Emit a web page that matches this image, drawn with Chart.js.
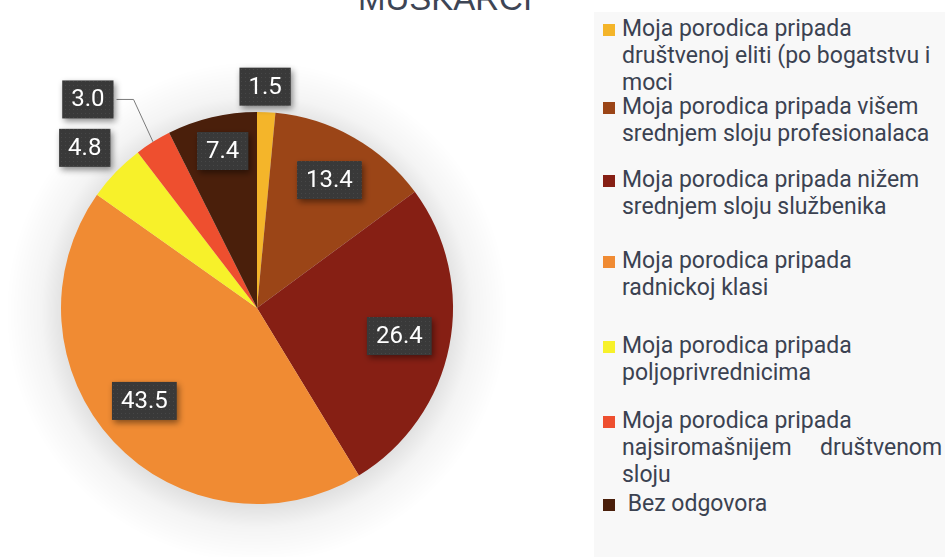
<!DOCTYPE html>
<html>
<head>
<meta charset="utf-8">
<script src="https://cdn.jsdelivr.net/npm/chart.js@4.4.0/dist/chart.umd.min.js"></script>
<style>
  body { margin: 0; width: 945px; height: 557px; background: #fff; overflow: hidden; position: relative; font-family: Roboto, "Noto Sans", sans-serif; }
  #title { position: absolute; left: 257px; width: 376px; top: -18px; text-align: center; font: 33px "Liberation Sans", Arial, sans-serif; color: #3d4555; line-height: 33px; }
  #chartBox { position: absolute; left: 0; top: 0; width: 597px; height: 557px; }
  #legend { position: absolute; left: 594px; top: 12px; width: 351px; height: 545px; background: #f8f8f8; }
  .item { position: absolute; left: 0; width: 351px; }
  .item .mk { position: absolute; left: 9px; width: 12px; height: 12px; top: 8px; }
  .item .tx { position: absolute; left: 28px; top: -1px; font-size: 23px; line-height: 27px; color: #3b4251; white-space: pre; }
</style>
</head>
<body>
<div id="title">MUŠKARCI</div>
<div id="chartBox"><canvas id="pieChart"></canvas></div>
<div id="legend"></div>
<script>
// Categories (legend text, wrapped as in the original)
const legendLines = [
    ['Moja porodica pripada', 'društvenoj eliti (po bogatstvu i', 'moci'],
    ['Moja porodica pripada višem', 'srednjem sloju profesionalaca'],
    ['Moja porodica pripada nižem', 'srednjem sloju službenika'],
    ['Moja porodica pripada', 'radnickoj klasi'],
    ['Moja porodica pripada', 'poljoprivrednicima'],
    ['Moja porodica pripada', 'najsiromašnijem     društvenom', 'sloju'],
    [' Bez odgovora']
];
const categories = legendLines.map(l => l.join(' ').trim());

// Percentages
const values = [1.5, 13.4, 26.4, 43.5, 4.8, 3.0, 7.4];

const colors = ['#f4b52a', '#9b4517', '#861f14', '#f08b33', '#f7f12a', '#ee4f2f', '#4a1f0b'];

// label placement: [radius factor, angle shift in degrees]
const labelPlace = [[1.13, -0.6], [0.75, 0], [0.74, 0], [0.745, 3.5], [1.2, -1], [1.37, -7], [0.82, 1]];

// legend item first-line top (px inside legend box)
const legendTops = [4, 82, 155, 236, 321, 396, 479];

const legend = document.getElementById('legend');
legendLines.forEach((lines, i) => {
    const item = document.createElement('div');
    item.className = 'item';
    item.style.top = legendTops[i] + 'px';
    const mk = document.createElement('div');
    mk.className = 'mk';
    mk.style.background = colors[i];
    const tx = document.createElement('div');
    tx.className = 'tx';
    tx.textContent = lines.join('\n');
    item.appendChild(mk);
    item.appendChild(tx);
    legend.appendChild(item);
});

// small dotted pattern for the label boxes
const pat = document.createElement('canvas');
pat.width = 4; pat.height = 4;
const pctx = pat.getContext('2d');
pctx.fillStyle = '#393939';
pctx.fillRect(0, 0, 4, 4);
pctx.fillStyle = '#474747';
pctx.fillRect(1, 1, 1, 1);

const glowPlugin = {
    id: 'glow',
    beforeDatasetsDraw(chart) {
        const arc = chart.getDatasetMeta(0).data[0];
        if (!arc) return;
        const { x, y, outerRadius } = arc.getProps(['x', 'y', 'outerRadius'], true);
        const ctx = chart.ctx;
        ctx.save();
        const g = ctx.createRadialGradient(x, y + 4, outerRadius - 4, x, y + 4, outerRadius + 55);
        g.addColorStop(0, 'rgba(0,0,0,0.12)');
        g.addColorStop(0.4, 'rgba(0,0,0,0.045)');
        g.addColorStop(1, 'rgba(0,0,0,0)');
        ctx.fillStyle = g;
        ctx.beginPath();
        ctx.arc(x, y + 4, outerRadius + 55, 0, Math.PI * 2);
        ctx.fill();
        ctx.restore();
    }
};

const boxLabels = {
    id: 'boxLabels',
    afterDatasetsDraw(chart) {
        const ctx = chart.ctx;
        const meta = chart.getDatasetMeta(0);
        const fill = ctx.createPattern(pat, 'repeat');
        meta.data.forEach((arc, i) => {
            const p = arc.getProps(['x', 'y', 'startAngle', 'endAngle', 'outerRadius'], true);
            const mid = (p.startAngle + p.endAngle) / 2;
            const a = mid + labelPlace[i][1] * Math.PI / 180;
            const r = p.outerRadius * labelPlace[i][0];
            const lx = p.x + Math.cos(a) * r;
            const ly = p.y + Math.sin(a) * r;
            const txt = values[i].toFixed(1);
            ctx.save();
            ctx.font = '24px Roboto';
            const w = ctx.measureText(txt).width + 18;
            const h = 38;
            if (labelPlace[i][0] > 1.3) {
                // leader line to the slice edge
                ctx.strokeStyle = '#7a7a7a';
                ctx.lineWidth = 1;
                ctx.beginPath();
                ctx.moveTo(lx + w / 2 + 3, ly);
                ctx.lineTo(lx + w / 2 + 20, ly);
                ctx.lineTo(p.x + Math.cos(mid) * p.outerRadius, p.y + Math.sin(mid) * p.outerRadius);
                ctx.stroke();
            }
            ctx.shadowColor = 'rgba(0,0,0,0.45)';
            ctx.shadowBlur = 6;
            ctx.shadowOffsetX = 2;
            ctx.shadowOffsetY = 3;
            ctx.fillStyle = fill;
            ctx.fillRect(lx - w / 2, ly - h / 2, w, h);
            ctx.shadowColor = 'transparent';
            ctx.fillStyle = '#ffffff';
            ctx.textAlign = 'center';
            ctx.textBaseline = 'middle';
            ctx.fillText(txt, lx, ly + 1);
            ctx.restore();
        });
    }
};

const ctx = document.getElementById('pieChart').getContext('2d');

const pieChart = new Chart(ctx, {
    type: 'pie',
    data: {
        labels: categories,
        datasets: [{
            data: values,
            backgroundColor: colors,
            borderWidth: 0
        }]
    },
    options: {
        responsive: true,
        maintainAspectRatio: false,
        animation: false,
        layout: {
            padding: { left: 61, right: 144, top: 112, bottom: 53 }
        },
        plugins: {
            legend: { display: false },
            tooltip: { enabled: false }
        }
    },
    plugins: [glowPlugin, boxLabels]
});
</script>
</body>
</html>
